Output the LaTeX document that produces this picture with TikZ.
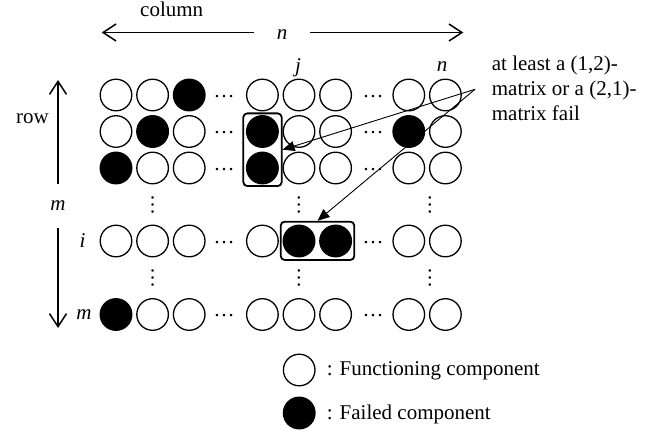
\documentclass[tikz,border=0pt]{standalone}
\usepackage{fontspec}
\setmainfont{Liberation Serif}
\usetikzlibrary{arrows.meta}
\tikzset{
  txt/.style={font=\fontsize{21}{25}\selectfont, inner sep=0pt},
  comp/.style={circle, draw, line width=1.3pt, minimum size=31.6pt, inner sep=0pt},
  failed/.style={fill=black},
  cellstyle/1-3/.style={failed},
  cellstyle/2-2/.style={failed},
  cellstyle/2-5/.style={failed},
  cellstyle/2-9/.style={failed},
  cellstyle/3-1/.style={failed},
  cellstyle/3-5/.style={failed},
  cellstyle/i-6/.style={failed},
  cellstyle/i-7/.style={failed},
  cellstyle/m-1/.style={failed},
  groupbox/.style={draw, line width=1.8pt, rounded corners=4pt, inner sep=0pt},
  dimarrow/.style={line width=1.5pt, -{Straight Barb[length=13pt, width=17pt, line width=1.5pt]}},
  annarrow/.style={line width=0.9pt, -{Triangle[length=12pt, width=10pt]}},
}
\begin{document}
\begin{tikzpicture}[x=1pt, y=-1pt]
\useasboundingbox (0,0) rectangle (670,432);

% component grid
\foreach \r/\y in {1/95, 2/131.5, 3/168, i/241, m/314.5} {
  \foreach \c/\x in {1/116, 2/152.6, 3/189.2, 5/262.4, 6/299, 7/335.6, 9/408.8, 10/445.4} {
    \node[comp, cellstyle/\r-\c/.try] (c-\r-\c) at (\x,\y) {};
  }
  \node[txt] (dl-\r) at (224,\y+1.5) {…};
  \node[txt] (dr-\r) at (373,\y+1.5) {…};
}
% vertical dots
\foreach \k/\x in {a/152.6, b/299, c/430} {
  \node[txt, rotate=90] (vu-\k) at (\x,205) {…};
  \node[txt, rotate=90] (vd-\k) at (\x,278) {…};
}

% group boxes
\node[groupbox, minimum width=38.4pt, minimum height=72.7pt] (vbox) at (262.5,149.7) {};
\node[groupbox, minimum width=73.6pt, minimum height=38.3pt] (hbox) at (317.5,240.8) {};

% column dimension
\node[txt, anchor=base] (coltxt) at (171.7,16.7) {column};
\node[txt, minimum width=56pt] (nh) at (282,34.5) {\textit{n}};
\coordinate (hl) at (101.7,32.5);
\coordinate (hr) at (463.3,32.5);
\draw[dimarrow] (nh.west |- hl) -- (hl);
\draw[dimarrow] (nh.east |- hr) -- (hr);

% row dimension
\node[txt] (rowtxt) at (32.5,119) {row};
\node[txt, minimum height=44pt] (mv) at (58,206) {\textit{m}};
\coordinate (vt) at (58,80);
\coordinate (vb) at (58,328);
\draw[dimarrow] (mv) -- (vt);
\draw[dimarrow] (mv) -- (vb);

% index labels
\node[txt, anchor=base] (jlab) at (298,72.5) {\textit{j}};
\node[txt, anchor=base] (nlab) at (442,71.5) {\textit{n}};
\node[txt] (ilab) at (82.5,241) {\textit{i}};
\node[txt] (mlab) at (84,315) {\textit{m}};

% annotation
\node[txt, anchor=north west, align=left] (note) at (491.7,55.5) {at least a (1,2)-\\matrix or a (2,1)-\\matrix fail};
\coordinate (src) at (475,89.3);
\draw[annarrow] (src) -- (vbox.east);
\draw[annarrow] (src) -- (hbox.north);

% legend
\node[comp] (lf) at (299.2,370) {};
\node[comp, failed] (lx) at (299.2,413) {};
\node[txt, anchor=west] (lftxt) at (326.7,371) {: Functioning component};
\node[txt, anchor=west] (lxtxt) at (326.7,414) {: Failed component};
\end{tikzpicture}
\end{document}
